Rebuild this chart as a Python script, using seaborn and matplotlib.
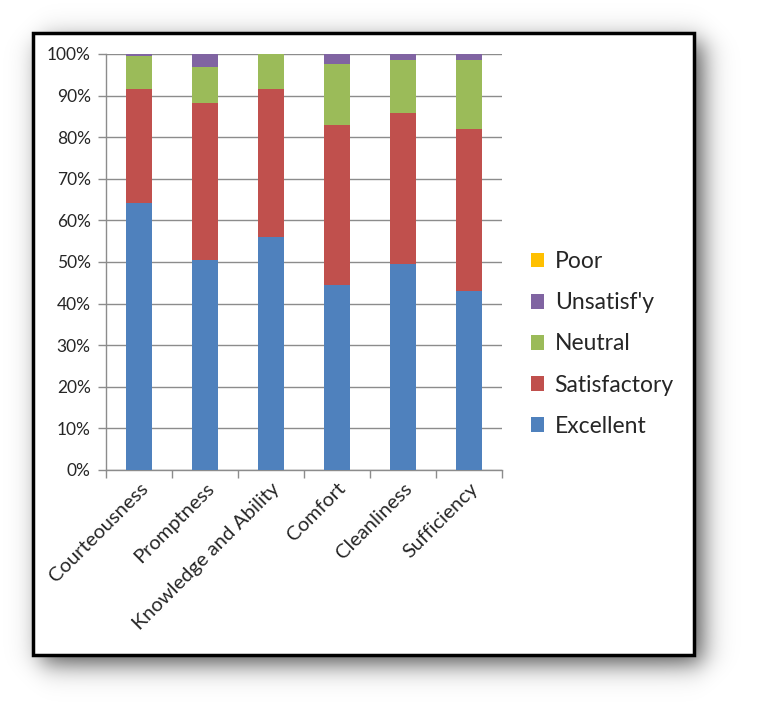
import numpy as np
import pandas as pd
import matplotlib
matplotlib.use("Agg")
import matplotlib.pyplot as plt
from matplotlib.patches import Patch, Rectangle
from matplotlib.ticker import FixedLocator, PercentFormatter
import seaborn as sns

# Data (percent of responses)
aspects = ["Courteousness", "Promptness", "Knowledge and Ability",
           "Comfort", "Cleanliness", "Sufficiency"]
excellent = [64.1, 50.5, 56.1, 44.4, 49.4, 43.0]
satisfactory = [27.5, 37.7, 35.5, 38.5, 36.4, 38.9]
neutral = [8.0, 8.7, 8.4, 14.7, 12.8, 16.7]
unsatisfy = [0.4, 3.1, 0.0, 2.4, 1.4, 1.4]
poor = [0.0, 0.0, 0.0, 0.0, 0.0, 0.0]

levels = ["Excellent", "Satisfactory", "Neutral", "Unsatisf'y", "Poor"]
colors = {"Excellent": "#4F81BD", "Satisfactory": "#C0504D",
          "Neutral": "#9BBB59", "Unsatisf'y": "#8064A2", "Poor": "#FFC000"}

df = pd.DataFrame({"aspect": aspects, "Excellent": excellent,
                   "Satisfactory": satisfactory, "Neutral": neutral,
                   "Unsatisf'y": unsatisfy, "Poor": poor})
cum = df[levels].cumsum(axis=1)
cum["aspect"] = df["aspect"]

sns.set_style("white")
plt.rcParams["font.family"] = ["Lato", "DejaVu Sans"]

W, H = 760, 721
fig = plt.figure(figsize=(W / 100, H / 100), dpi=100)
fig.patch.set_facecolor("white")

# soft drop shadow behind the framed box
bx0, bx1, by0, by1 = 33, 694, 33, 655
xs = np.arange(W)
ys = np.arange(H)
dx, dy, s = 8, 8, 15
fx = 0.5 * (np.tanh((xs - (bx0 + dx)) / s) - np.tanh((xs - (bx1 + dx)) / s))
fy = 0.5 * (np.tanh((ys - (by0 + dy)) / s) - np.tanh((ys - (by1 + dy)) / s))
alpha = 0.7 * np.outer(fy, fx)
shadow = np.zeros((H, W, 4))
shadow[..., 3] = alpha
fig.figimage(shadow, xo=0, yo=0, origin="upper", zorder=-3)

fig.add_artist(Rectangle((bx0 / W, 1 - by1 / H), (bx1 - bx0) / W, (by1 - by0) / H,
                         transform=fig.transFigure, facecolor="white",
                         edgecolor="black", linewidth=2.5, zorder=-2))

ax = fig.add_axes([106 / W, 1 - 470 / H, (502 - 106) / W, (470 - 54) / H])
ax.set_facecolor("none")

# stacked bars: draw cumulative totals from the top layer down
for lvl in reversed(levels):
    sns.barplot(data=cum, x="aspect", y=lvl, color=colors[lvl], width=0.39,
                saturation=1, ax=ax, linewidth=0, zorder=3)

ax.set_xlim(-0.5, len(aspects) - 0.5)
ax.set_ylim(0, 100)
ax.set_xlabel("")
ax.set_ylabel("")
ax.yaxis.set_major_locator(FixedLocator(np.arange(0, 101, 10)))
ax.yaxis.set_major_formatter(PercentFormatter(decimals=0))
ax.grid(axis="y", color="#8c8c8c", linewidth=1, zorder=0)
ax.set_axisbelow(True)

for side in ["top", "right"]:
    ax.spines[side].set_visible(False)
for side in ["left", "bottom"]:
    ax.spines[side].set_color("#8c8c8c")
    ax.spines[side].set_linewidth(1)

ax.tick_params(axis="y", length=6, width=1, color="#8c8c8c", labelsize=12.5,
               pad=5, left=True)
ax.tick_params(axis="x", which="major", length=0, labelsize=14.5, pad=7)
ax.set_xticks(np.arange(-0.5, len(aspects)), minor=True)
ax.tick_params(axis="x", which="minor", length=6, width=1, color="#8c8c8c",
               bottom=True)
plt.setp(ax.get_xticklabels(), rotation=45, ha="right", rotation_mode="anchor")

handles = [Patch(facecolor=colors[l], edgecolor="none", label=l)
           for l in reversed(levels)]
fig.legend(handles=handles, loc="center left", bbox_to_anchor=(510 / W, 1 - 344 / H),
           frameon=False, fontsize=16.5, handlelength=0.6, handleheight=0.6,
           handletextpad=0.45, labelspacing=0.88)

fig.savefig("out.png", dpi=100)
